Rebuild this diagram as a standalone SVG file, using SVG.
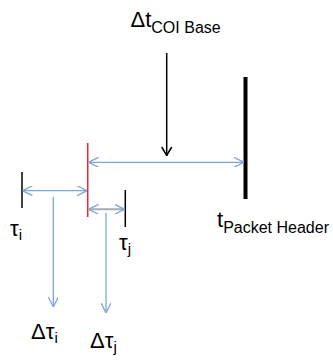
<svg xmlns="http://www.w3.org/2000/svg" width="333" height="360" viewBox="0 0 333 360">
<style>
text{font-family:"Liberation Sans","DejaVu Sans",sans-serif;fill:#000}
.big{font-size:22px}
.sub{font-size:16px}
.si{font-size:15px}
.blue{stroke:#7EA6D8;stroke-width:1.3;fill:none}
.tick{stroke:#000;stroke-width:1.5}
</style>
<defs>
<marker id="bh" viewBox="0 0 10 10" refX="10" refY="5" markerWidth="10" markerHeight="10" markerUnits="userSpaceOnUse" orient="auto-start-reverse">
<path d="M0,0 L10,5 L0,10" fill="none" stroke="#7EA6D8" stroke-width="1.3"/>
</marker>
<marker id="kh" viewBox="0 0 12 10" refX="6" refY="10" markerWidth="12" markerHeight="10" markerUnits="userSpaceOnUse" orient="0">
<path d="M1,1 L6,9.5 L11,1" fill="none" stroke="#000" stroke-width="1.5"/>
</marker>
</defs>
<g id="packet-header">
<line x1="245.5" y1="77" x2="245.5" y2="199" stroke="#000" stroke-width="4"/>
<text class="big" x="217" y="227">t<tspan class="sub" dy="6">Packet Header</tspan></text>
</g>
<g id="coi-base-label">
<text class="big" x="130.5" y="27">Δt<tspan class="sub" dy="6">COI Base</tspan></text>
</g>
<g id="red-line">
<line x1="87.7" y1="143" x2="87.7" y2="217" stroke="#D0343A" stroke-width="1.6"/>
</g>
<g id="tau-i">
<line class="tick" x1="22" y1="172" x2="22" y2="208"/>
<text class="big" x="10" y="236">τ<tspan class="si" dy="4">i</tspan></text>
</g>
<g id="tau-j">
<line class="tick" x1="125.3" y1="190" x2="125.3" y2="227"/>
<text class="big" x="119" y="250">τ<tspan class="si" dy="4">j</tspan></text>
</g>
<g id="delta-tau-i">
<text class="big" x="31" y="339">Δτ<tspan class="si" dy="4">i</tspan></text>
</g>
<g id="delta-tau-j">
<text class="big" x="90" y="348">Δτ<tspan class="si" dy="4">j</tspan></text>
</g>
<g id="connectors">
<line x1="166.7" y1="53" x2="166.7" y2="156" stroke="#000" stroke-width="1.5" marker-end="url(#kh)"/>
<line class="blue" x1="88.5" y1="162.3" x2="244" y2="162.3" marker-start="url(#bh)" marker-end="url(#bh)"/>
<line class="blue" x1="22.5" y1="190.7" x2="87" y2="190.7" marker-start="url(#bh)" marker-end="url(#bh)"/>
<line x1="89" y1="209.3" x2="124.5" y2="209.3" stroke="#A3AAB3" stroke-width="2"/>
<line class="blue" x1="88.5" y1="209.3" x2="124.5" y2="209.3" stroke-opacity="0" marker-start="url(#bh)" marker-end="url(#bh)"/>
<line class="blue" x1="53.3" y1="197" x2="53.3" y2="307" marker-end="url(#bh)"/>
<line class="blue" x1="106" y1="213" x2="106" y2="313" marker-end="url(#bh)"/>
</g>
</svg>
